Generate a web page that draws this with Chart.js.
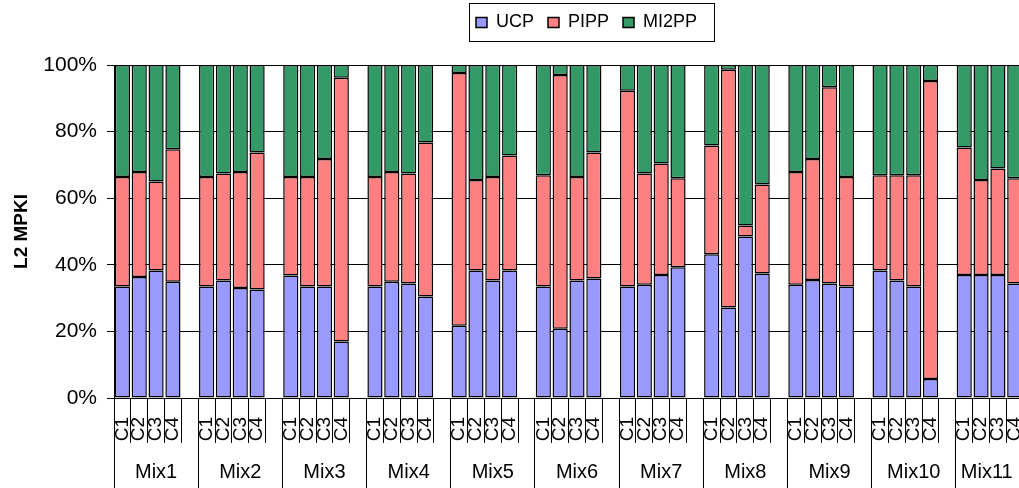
<!DOCTYPE html>
<html>
<head>
<meta charset="utf-8">
<script src="https://cdn.jsdelivr.net/npm/chart.js@4.4.1/dist/chart.umd.min.js"></script>
<style>
  html, body { margin: 0; padding: 0; overflow: hidden; background: #fff; }
  #wrap { position: absolute; left: 0; top: 0; width: 1040px; height: 488px; }
</style>
</head>
<body>
<div id="wrap"><canvas id="chart"></canvas></div>
<script>
// Workload mixes and the four cores in each
const mixes = ['Mix1', 'Mix2', 'Mix3', 'Mix4', 'Mix5', 'Mix6', 'Mix7', 'Mix8', 'Mix9', 'Mix10', 'Mix11'];
const cores = ['C1', 'C2', 'C3', 'C4'];
const yTickValues = [0, 20, 40, 60, 80, 100];

// Share (%) of each core's normalised L2 MPKI, per policy; four values per mix
const ucp = [
  33.5, 36.3, 38.3, 34.9,
  33.5, 35.3, 33.0, 32.6,
  36.8, 33.5, 33.5, 17.0,
  33.5, 34.9, 34.4, 30.5,
  21.7, 38.3, 35.3, 38.3,
  33.5, 20.8, 35.3, 35.9,
  33.5, 34.0, 36.9, 39.3,
  43.2, 27.2, 48.5, 37.4,
  34.0, 35.4, 34.4, 33.5,
  38.3, 35.3, 33.5, 5.7,
  36.9, 36.9, 36.9, 34.4
];
const pipp = [
  32.9, 31.6, 26.7, 39.8,
  32.9, 32.1, 34.9, 41.1,
  29.6, 32.9, 38.3, 79.2,
  32.9, 33.0, 33.0, 46.2,
  75.9, 27.2, 31.1, 34.5,
  33.4, 76.2, 31.1, 37.8,
  58.8, 33.4, 33.5, 26.7,
  32.6, 71.4, 3.3, 26.7,
  33.9, 36.4, 58.9, 32.9,
  28.6, 31.6, 33.4, 89.5,
  38.3, 28.6, 32.0, 31.6
];
const mi2pp = [
  33.6, 32.1, 35.0, 25.3,
  33.6, 32.6, 32.1, 26.3,
  33.6, 33.6, 28.2, 3.8,
  33.6, 32.1, 32.6, 23.3,
  2.4, 34.5, 33.6, 27.2,
  33.1, 3.0, 33.6, 26.3,
  7.7, 32.6, 29.6, 34.0,
  24.2, 1.4, 48.2, 35.9,
  32.1, 28.2, 6.7, 33.6,
  33.1, 33.1, 33.1, 4.8,
  24.8, 34.5, 31.1, 34.0
];

// Each mix takes four core slots plus one empty slot as a separator
const slotLabels = [];
mixes.forEach(() => slotLabels.push(...cores, ''));
function spread(values) {
  const out = [];
  mixes.forEach((m, i) => out.push(...values.slice(i * 4, i * 4 + 4), null));
  return out;
}

const FONT = 'Liberation Sans, Arial, Helvetica, sans-serif';
Chart.defaults.font.family = FONT;
Chart.defaults.color = '#000';

// Places the legend row and draws the framed box around it
const legendFrame = {
  id: 'legendFrame',
  afterLayout(chart) {
    const lg = chart.legend;
    const pad = lg.options.labels.padding;
    const w = lg.right - lg.left;
    lg.left = 476 - pad;
    lg.right = lg.left + w;
    const h = lg.bottom - lg.top;
    lg.top = -0.5;
    lg.bottom = lg.top + h;
  },
  afterDraw(chart) {
    const hb = chart.legend.legendHitBoxes;
    if (!hb || !hb.length) return;
    const first = hb[0], last = hb[hb.length - 1];
    const x0 = Math.round(first.left - 7) + 0.5;
    const x1 = Math.round(last.left + last.width + 17) + 0.5;
    const y0 = Math.round(first.top - 11) + 0.5;
    const y1 = Math.round(first.top + first.height + 9) + 0.5;
    const ctx = chart.ctx;
    ctx.save();
    ctx.strokeStyle = '#000';
    ctx.lineWidth = 1;
    ctx.strokeRect(x0, y0, x1 - x0, y1 - y0);
    ctx.restore();
  }
};

const barStyle = { borderColor: '#000', borderWidth: 1.5, borderSkipped: false, barPercentage: 0.9, categoryPercentage: 1.0 };

new Chart(document.getElementById('chart'), {
  type: 'bar',
  data: {
    labels: slotLabels,
    datasets: [
      { label: 'UCP', data: spread(ucp), backgroundColor: '#9999FF', ...barStyle },
      { label: 'PIPP', data: spread(pipp), backgroundColor: '#FF8080', ...barStyle },
      { label: 'MI2PP', data: spread(mi2pp), backgroundColor: '#339966', ...barStyle }
    ]
  },
  plugins: [legendFrame],
  options: {
    responsive: true,
    maintainAspectRatio: false,
    animation: false,
    devicePixelRatio: 1,
    layout: { padding: { top: 23, left: 0, right: 0, bottom: 0 } },
    plugins: {
      tooltip: { enabled: false },
      legend: {
        position: 'top',
        align: 'start',
        labels: {
          boxWidth: 11,
          boxHeight: 10,
          padding: 14,
          color: '#000',
          font: { size: 18, family: FONT }
        }
      }
    },
    scales: {
      x: {
        type: 'category',
        position: 'bottom',
        stacked: true,
        offset: true,
        weight: 0,
        grid: { display: true, offset: true, drawOnChartArea: false, drawTicks: true, tickLength: 45, color: '#000', lineWidth: 1 },
        border: { display: true, color: '#000', width: 1 },
        ticks: {
          autoSkip: false, minRotation: 90, maxRotation: 90, padding: -26,
          color: '#000', font: { size: 19, family: FONT }
        },
        afterFit(scale) { scale.height = 45; }
      },
      x2: {
        type: 'category',
        position: 'bottom',
        labels: mixes,
        offset: true,
        weight: 1,
        grid: { display: true, offset: true, drawOnChartArea: false, drawTicks: true, tickLength: 45, color: '#000', lineWidth: 1 },
        border: { display: false },
        ticks: {
          autoSkip: false, maxRotation: 0, minRotation: 0, padding: -28,
          color: '#000', font: { size: 20, family: FONT },
          // the last group sits at the right edge, so its label is nudged inwards
          callback: (v, i) => i === mixes.length - 1 ? mixes[i] + '    ' : mixes[i]
        },
        afterFit(scale) { scale.height = 45; }
      },
      y: {
        stacked: true,
        min: 0,
        max: 100,
        grid: { display: true, color: '#000', lineWidth: 1, drawTicks: true, tickLength: 7 },
        border: { display: true, color: '#000', width: 1 },
        afterBuildTicks(scale) { scale.ticks = yTickValues.map(v => ({ value: v })); },
        ticks: {
          padding: 10,
          color: '#000',
          font: { size: 21, family: FONT },
          callback: v => v + '%'
        },
        title: {
          display: true,
          text: 'L2 MPKI',
          color: '#000',
          font: { size: 19, weight: 'bold', family: FONT },
          padding: { top: 10, bottom: 0 }
        },
        afterFit(scale) { scale.width = 114; }
      }
    }
  }
});
</script>
</body>
</html>
